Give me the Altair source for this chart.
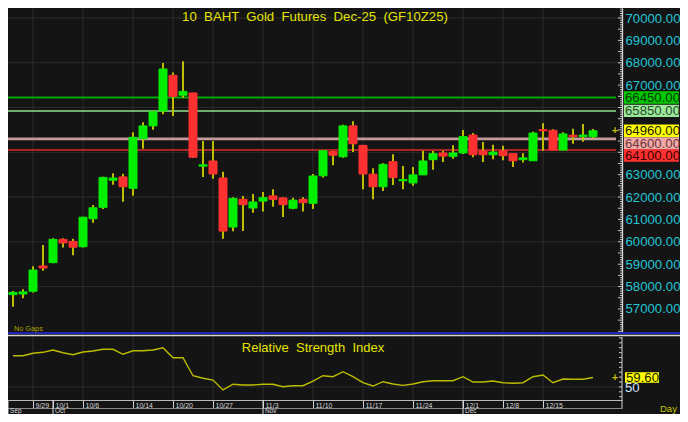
import altair as alt
import pandas as pd

# ---------------- data ----------------
opens  = [57640, 57670, 57790, 58920, 59070, 60110, 60020, 59780, 61030, 61540,
          62750, 62900, 62390, 64610, 65180, 65850, 67440, 66550, 66650, 63380,
          63610, 62850, 60660, 61900, 61510, 61820, 62050, 61960, 61500, 61900,
          61720, 62950, 64030, 63800, 65180, 64310, 63020, 62460, 63580, 62730,
          62630, 62990, 63670, 63970, 63820, 63970, 64770, 64060, 63890, 64060,
          63940, 63670, 63620, 65010, 64980, 64100, 64760, 64710, 64700]
highs  = [57800, 57880, 58910, 59860, 60160, 60160, 60140, 61120, 61650, 62910,
          63060, 63040, 64890, 65340, 65850, 67990, 67570, 68070, 66660, 64500,
          64500, 63130, 61990, 62050, 62140, 62230, 62350, 61990, 61970, 61990,
          63030, 64090, 64070, 65230, 65390, 64330, 63290, 63510, 63910, 63390,
          63340, 64070, 64060, 64070, 64310, 65000, 64860, 64460, 64340, 64290,
          63950, 63960, 64920, 65300, 65030, 64890, 65050, 65260, 65040]
lows   = [57100, 57480, 57740, 58710, 59040, 59750, 59400, 59750, 60850, 61470,
          62550, 61790, 62060, 64160, 65010, 65700, 65620, 66440, 63760, 62900,
          62820, 60140, 60470, 60480, 61300, 61350, 61570, 61110, 61450, 61350,
          61470, 62870, 63420, 63760, 64010, 62350, 61900, 62270, 62540, 62350,
          62510, 62980, 63220, 63570, 63710, 63920, 63780, 63570, 63690, 63640,
          63340, 63540, 63610, 64070, 64090, 64090, 64380, 64470, 64620]
closes = [57740, 57760, 58740, 58830, 60110, 59950, 59760, 61100, 61520, 62880,
          62850, 62460, 64670, 65180, 65810, 67720, 66500, 66720, 63780, 63440,
          63030, 60480, 61940, 61660, 61780, 61970, 61900, 61660, 61860, 61750,
          62940, 64070, 63870, 65180, 64380, 63030, 62460, 63460, 62870, 62780,
          62990, 63610, 63940, 63830, 63970, 64700, 63890, 63890, 64010, 63850,
          63620, 63750, 64860, 64960, 64100, 64820, 64700, 64770, 64960]
rsi    = [81.8, 81.8, 84.3, 85.3, 87.7, 84.9, 82.9, 85.6, 86.6, 88.4,
          88.4, 83.3, 86.9, 86.9, 87.7, 90.0, 79.8, 79.8, 61.4, 58.8,
          57.0, 46.9, 52.7, 52.0, 52.0, 52.7, 52.7, 50.2, 51.2, 51.2,
          56.0, 61.4, 60.4, 65.5, 60.4, 54.3, 50.9, 55.3, 53.0, 51.6,
          53.0, 55.3, 56.3, 56.3, 56.3, 60.4, 55.0, 55.0, 56.0, 54.3,
          53.7, 54.3, 60.4, 62.2, 54.3, 58.1, 57.8, 57.8, 59.6]

week_tick_idx = [2, 7, 12, 16, 20, 25, 30, 35, 40, 45, 49, 53]
week_tick_lbl = ["9/29", "10/6", "10/14", "10/20", "10/27", "11/3", "11/10",
                 "11/17", "11/24", "12/1", "12/8", "12/15"]
month_tick_idx = [4]
month_tick_lbl = ["10/1"]
month_names = ["Sep", "Oct", "Nov", "Dec"]
month_start_idx = [-0.5, 4, 25, 45]

price_ticks = list(range(57000, 70001, 1000))
price_grid = list(range(58000, 70001, 2000))
price_minor = list(range(56000, 70401, 100))
rsi_minor = list(range(40, 101, 5))
level_values = [66450, 65850, 64600, 64100]
last_price = 64960
rsi_last = 59.60
rsi_mid = 50

title_text = "10  BAHT  Gold  Futures  Dec-25  (GF10Z25)"
rsi_title_text = "Relative  Strength  Index"

# ---------------- styles ----------------
FONT = "Arial"
BG = "#141414"
GRID = "#2c2c2c"
YEL = "#e4e400"
OLIVE = "#bcbc00"
UP = "#00ee00"
DOWN = "#ff3030"
CYAN = "#22c4d4"
TICKC = "#c8c8c8"
LBL = 13.2
level_line_colors = ["#00a800", "#90e090", "#c49a9a", "#e02828"]
level_line_widths = [2, 1.5, 2.6, 1.5]
level_box_colors = ["#00c800", "#9ae89a", "#f0aaaa", "#ff3030"]
level_text_colors = ["#0a3a0a", "#2a4a2a", "#703838", "#400000"]
level_box_shift = [0, 0, 4.5, 5.5]


def keep_spaces(s):
    return s.replace("  ", " \u00a0")


TOTAL_W, TOTAL_H = 672, 406
W, H = 614, 392
BOX_X1, BOX_X2 = W + 2, W + 57

xscale = alt.Scale(domain=[-0.5, 60.9], nice=False, zero=False, padding=0)
PY = alt.Scale(domain=[55970, 70447], range=[324, 0], nice=False, zero=False, padding=0)
RY = alt.Scale(domain=[36.64, 100.93], range=[392, 329], nice=False, zero=False, padding=0)

all_tick_idx = week_tick_idx + month_tick_idx
all_tick_lbl = week_tick_lbl + month_tick_lbl
label_map = "{" + ",".join(f"'{i}':'{l}'" for i, l in zip(all_tick_idx, all_tick_lbl)) + "}"

# price labels hidden behind the value boxes are not drawn
boxed = level_values + [last_price]
axis_values = [t for t in price_ticks if all(abs(t - b) >= 500 for b in boxed)]

xaxis = alt.Axis(values=all_tick_idx, labelExpr=label_map + "[datum.value]", title=None,
                 grid=False, domainColor="#b8b8b8", tickColor="#d0d0d0", tickSize=8,
                 labelPadding=-1, labelBaseline="alphabetic", labelAlign="left",
                 labelOffset=2, labelColor="#d8d8d8", labelFont=FONT, labelFontSize=7,
                 labelFlush=False, labelOverlap=False)
price_axis = alt.Axis(orient="right", values=axis_values, format=".2f", title=None,
                      grid=False, ticks=False, labelPadding=3, labelColor=CYAN,
                      labelFont=FONT, labelFontSize=LBL, domainColor="#d8d8d8",
                      domainWidth=1.3, labelFlush=False, labelOverlap=False)

X = alt.X("i:Q", scale=xscale, axis=xaxis)

cdf = pd.DataFrame({"i": list(range(len(opens))), "o": opens, "h": highs,
                    "l": lows, "c": closes})
cdf["dir"] = ["up" if c >= o else "down" for o, c in zip(opens, closes)]
rdf = pd.DataFrame({"i": list(range(len(rsi))), "r": rsi})
one = pd.DataFrame({"a": [0]})

layers = []

# grid
layers.append(alt.Chart(pd.DataFrame({"i": week_tick_idx})).mark_rule(color=GRID, strokeWidth=1)
              .encode(x=X, y=alt.value(0), y2=alt.value(H)))
layers.append(alt.Chart(pd.DataFrame({"p": price_grid})).mark_rule(color=GRID, strokeWidth=1)
              .encode(y=alt.Y("p:Q", scale=PY, axis=None), x=alt.value(0), x2=alt.value(W)))
layers.append(alt.Chart(pd.DataFrame({"r": [rsi_mid]})).mark_rule(color=GRID, strokeWidth=1)
              .encode(y=alt.Y("r:Q", scale=RY, axis=None), x=alt.value(0), x2=alt.value(W)))

# inner minor ticks on the right edge of both panels
pm = pd.DataFrame({"p": price_minor})
pm["len"] = [4 if p % 500 == 0 else 2 for p in price_minor]
layers.append(alt.Chart(pm[pm["len"] == 2]).mark_rule(color=TICKC, strokeWidth=1)
              .encode(y=alt.Y("p:Q", scale=PY, axis=None), x=alt.value(W - 2), x2=alt.value(W)))
layers.append(alt.Chart(pm[pm["len"] == 4]).mark_rule(color=TICKC, strokeWidth=1)
              .encode(y=alt.Y("p:Q", scale=PY, axis=None), x=alt.value(W - 4), x2=alt.value(W)))
layers.append(alt.Chart(pd.DataFrame({"r": rsi_minor})).mark_rule(color=TICKC, strokeWidth=1)
              .encode(y=alt.Y("r:Q", scale=RY, axis=None), x=alt.value(W - 3), x2=alt.value(W)))

# level lines
for v, col, sw in zip(level_values, level_line_colors, level_line_widths):
    layers.append(alt.Chart(pd.DataFrame({"v": [v]})).mark_rule(color=col, strokeWidth=sw)
                  .encode(y=alt.Y("v:Q", scale=PY, axis=None), x=alt.value(0), x2=alt.value(W - 6)))

# candles
base = alt.Chart(cdf)
layers.append(base.mark_rule(color=OLIVE, strokeWidth=2)
              .encode(x=X, y=alt.Y("l:Q", scale=PY, axis=None), y2="h:Q"))
dir_scale = alt.Scale(domain=["up", "down"], range=[UP, DOWN])
layers.append(base.mark_bar(size=8, strokeWidth=1)
              .encode(x=X, y=alt.Y("o:Q", scale=PY, axis=price_axis), y2="c:Q",
                      fill=alt.Fill("dir:N", scale=dir_scale, legend=None),
                      stroke=alt.Stroke("dir:N", scale=dir_scale, legend=None)))

# last-value markers
lastdf = pd.DataFrame({"i": [len(closes) - 1], "p": [last_price], "r": [rsi_last]})
layers.append(alt.Chart(lastdf).mark_text(text="+", font=FONT, fontSize=11, fontWeight="bold",
                                          color=OLIVE, dx=22, baseline="middle")
              .encode(x=X, y=alt.Y("p:Q", scale=PY, axis=None)))

# RSI
layers.append(alt.Chart(rdf).mark_line(color=OLIVE, strokeWidth=1.4)
              .encode(x=X, y=alt.Y("r:Q", scale=RY, axis=None)))
layers.append(alt.Chart(lastdf).mark_text(text="+", font=FONT, fontSize=11, fontWeight="bold",
                                          color=OLIVE, dx=22, baseline="middle")
              .encode(x=X, y=alt.Y("r:Q", scale=RY, axis=None)))


# frame decorations
def hline(y, x1, x2, color, sw):
    return alt.Chart(one).mark_rule(color=color, strokeWidth=sw).encode(
        x=alt.value(x1), x2=alt.value(x2), y=alt.value(y))


def vline(x, y1, y2, color, sw):
    return alt.Chart(one).mark_rule(color=color, strokeWidth=sw).encode(
        x=alt.value(x), y=alt.value(y1), y2=alt.value(y2))


layers.append(hline(325, 0, TOTAL_W, "#2424b8", 2))
layers.append(hline(327.5, 0, TOTAL_W, "#d4d4d4", 1.5))
layers.append(vline(W, 329, 401, "#d0d0d0", 1))
layers.append(hline(400.5, 0, W, "#8a8a8a", 1))

# month dividers & labels
mdf = pd.DataFrame({"i": month_start_idx, "m": month_names})
layers.append(alt.Chart(mdf).mark_rule(color="#d8d8d8", strokeWidth=1)
              .encode(x=X, y=alt.value(H), y2=alt.value(TOTAL_H)))
layers.append(alt.Chart(mdf).mark_text(font=FONT, fontSize=6.5, color="#d8d8d8", align="left",
                                       baseline="alphabetic", dx=2)
              .encode(x=X, y=alt.value(405), text="m:N"))

# titles & captions
layers.append(alt.Chart(one).mark_text(text=keep_spaces(title_text), font=FONT, fontSize=13.2,
                                       color=YEL, align="center", baseline="alphabetic")
              .encode(x=alt.value(307), y=alt.value(12.5)))
layers.append(alt.Chart(one).mark_text(text=keep_spaces(rsi_title_text), font=FONT, fontSize=13,
                                       color=YEL, align="center", baseline="alphabetic")
              .encode(x=alt.value(305), y=alt.value(344)))
layers.append(alt.Chart(one).mark_text(text="No Gaps", font=FONT, fontSize=7.3, color="#b0a400",
                                       align="left", baseline="alphabetic")
              .encode(x=alt.value(6), y=alt.value(323)))
layers.append(alt.Chart(one).mark_text(text="Day", font=FONT, fontSize=9.5, color="#c8c800",
                                       align="left", baseline="alphabetic")
              .encode(x=alt.value(652), y=alt.value(404)))

# right-hand value boxes for levels
for v, bc, tc, sh in zip(level_values, level_box_colors, level_text_colors, level_box_shift):
    d = pd.DataFrame({"v": [v], "t": [f"{v:.2f}"]})
    layers.append(alt.Chart(d).mark_rect(color=bc, yOffset=-6.2 + sh, y2Offset=6.2 + sh)
                  .encode(y=alt.Y("v:Q", scale=PY, axis=None), y2="v:Q",
                          x=alt.value(BOX_X1), x2=alt.value(BOX_X2)))
    layers.append(alt.Chart(d).mark_text(font=FONT, fontSize=LBL, color=tc, align="left",
                                         baseline="middle", dy=sh + 0.5)
                  .encode(y=alt.Y("v:Q", scale=PY, axis=None), x=alt.value(W + 3), text="t:N"))

lp = pd.DataFrame({"v": [last_price], "t": [f"{last_price:.2f}"]})
layers.append(alt.Chart(lp).mark_rect(color="#ffff00", yOffset=-6.2, y2Offset=6.2)
              .encode(y=alt.Y("v:Q", scale=PY, axis=None), y2="v:Q",
                      x=alt.value(BOX_X1), x2=alt.value(BOX_X2)))
layers.append(alt.Chart(lp).mark_text(font=FONT, fontSize=LBL, color="#202000", align="left",
                                      baseline="middle", dy=0.5)
              .encode(y=alt.Y("v:Q", scale=PY, axis=None), x=alt.value(W + 3), text="t:N"))

# RSI value labels
r50 = pd.DataFrame({"r": [rsi_mid], "t": [str(rsi_mid)]})
layers.append(alt.Chart(r50).mark_text(font=FONT, fontSize=LBL, color="#d0e4ff", align="left",
                                       baseline="middle", dy=1)
              .encode(y=alt.Y("r:Q", scale=RY, axis=None), x=alt.value(W + 3), text="t:N"))
rl = pd.DataFrame({"r": [rsi_last], "t": [f"{rsi_last:.2f}"]})
layers.append(alt.Chart(rl).mark_rect(color="#ffff00", yOffset=-5.2, y2Offset=5.2)
              .encode(y=alt.Y("r:Q", scale=RY, axis=None), y2="r:Q",
                      x=alt.value(W + 3), x2=alt.value(W + 37)))
layers.append(alt.Chart(rl).mark_text(font=FONT, fontSize=LBL, color="#202000", align="left",
                                      baseline="middle", dy=0.5)
              .encode(y=alt.Y("r:Q", scale=RY, axis=None), x=alt.value(W + 4), text="t:N"))

chart = (alt.layer(*layers)
         .resolve_scale(y="independent")
         .properties(width=W, height=H,
                     autosize=alt.AutoSizeParams(type="none"),
                     padding={"left": 0, "top": 0, "right": TOTAL_W - W, "bottom": TOTAL_H - H})
         .configure(background=BG)
         .configure_scale(continuousPadding=0)
         .configure_view(stroke=None, fill=BG))

chart.save("out.html", embed_options={"renderer": "svg", "actions": False})
